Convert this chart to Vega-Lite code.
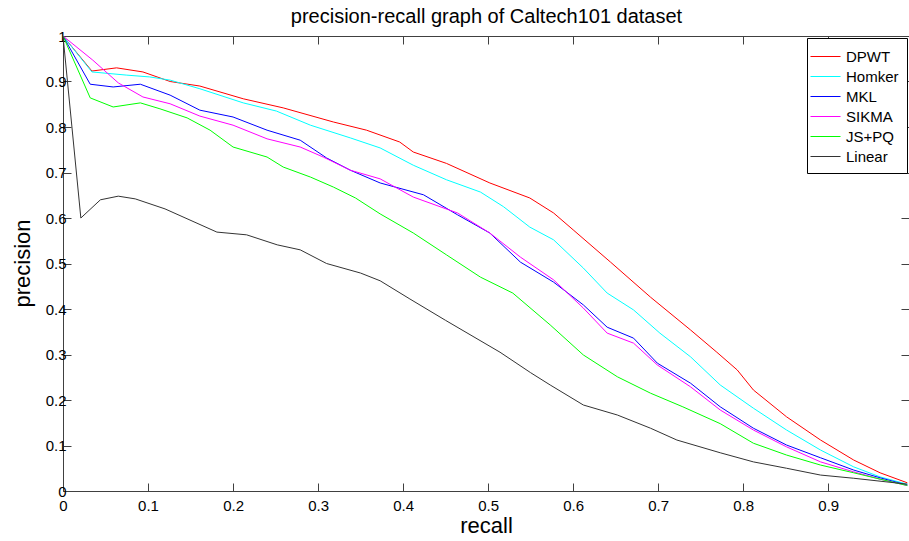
{
  "$schema": "https://vega.github.io/schema/vega-lite/v6.json",
  "autosize": {"type": "none"},
  "padding": {"left": 63, "top": 36, "right": 0, "bottom": 50},
  "width": 846,
  "height": 455,
  "background": "white",
  "config": {
    "font": "Liberation Sans",
    "view": {"stroke": "#404040", "strokeWidth": 1},
    "axis": {"grid": false, "domain": false, "tickColor": "#404040", "tickSize": -8, "labelColor": "#000", "labelFontSize": 15, "labelFont": "Liberation Sans", "titleFont": "Liberation Sans", "titleFontWeight": "normal", "titleColor": "#000", "format": ".1~f"}
  },
  "data": {"values": [
    {"method":"DPWT","recall":0,"precision":1},{"method":"DPWT","recall":0.034,"precision":0.923},{"method":"DPWT","recall":0.063,"precision":0.93},{"method":"DPWT","recall":0.094,"precision":0.921},{"method":"DPWT","recall":0.126,"precision":0.9},{"method":"DPWT","recall":0.161,"precision":0.89},{"method":"DPWT","recall":0.212,"precision":0.862},{"method":"DPWT","recall":0.259,"precision":0.842},{"method":"DPWT","recall":0.318,"precision":0.811},{"method":"DPWT","recall":0.357,"precision":0.793},{"method":"DPWT","recall":0.396,"precision":0.767},{"method":"DPWT","recall":0.412,"precision":0.745},{"method":"DPWT","recall":0.451,"precision":0.72},{"method":"DPWT","recall":0.502,"precision":0.677},{"method":"DPWT","recall":0.549,"precision":0.644},{"method":"DPWT","recall":0.577,"precision":0.611},{"method":"DPWT","recall":0.6,"precision":0.574},{"method":"DPWT","recall":0.644,"precision":0.503},{"method":"DPWT","recall":0.691,"precision":0.426},{"method":"DPWT","recall":0.738,"precision":0.354},{"method":"DPWT","recall":0.769,"precision":0.305},{"method":"DPWT","recall":0.793,"precision":0.266},{"method":"DPWT","recall":0.812,"precision":0.222},{"method":"DPWT","recall":0.851,"precision":0.163},{"method":"DPWT","recall":0.891,"precision":0.112},{"method":"DPWT","recall":0.93,"precision":0.068},{"method":"DPWT","recall":0.961,"precision":0.04},{"method":"DPWT","recall":0.993,"precision":0.018},
    {"method":"Homker","recall":0,"precision":1},{"method":"Homker","recall":0.034,"precision":0.921},{"method":"Homker","recall":0.075,"precision":0.914},{"method":"Homker","recall":0.102,"precision":0.91},{"method":"Homker","recall":0.126,"precision":0.903},{"method":"Homker","recall":0.161,"precision":0.884},{"method":"Homker","recall":0.212,"precision":0.853},{"method":"Homker","recall":0.251,"precision":0.835},{"method":"Homker","recall":0.291,"precision":0.804},{"method":"Homker","recall":0.338,"precision":0.776},{"method":"Homker","recall":0.373,"precision":0.754},{"method":"Homker","recall":0.412,"precision":0.716},{"method":"Homker","recall":0.451,"precision":0.684},{"method":"Homker","recall":0.491,"precision":0.657},{"method":"Homker","recall":0.518,"precision":0.625},{"method":"Homker","recall":0.549,"precision":0.58},{"method":"Homker","recall":0.577,"precision":0.552},{"method":"Homker","recall":0.612,"precision":0.49},{"method":"Homker","recall":0.64,"precision":0.435},{"method":"Homker","recall":0.671,"precision":0.398},{"method":"Homker","recall":0.702,"precision":0.347},{"method":"Homker","recall":0.738,"precision":0.295},{"method":"Homker","recall":0.773,"precision":0.233},{"method":"Homker","recall":0.812,"precision":0.182},{"method":"Homker","recall":0.851,"precision":0.134},{"method":"Homker","recall":0.891,"precision":0.09},{"method":"Homker","recall":0.93,"precision":0.053},{"method":"Homker","recall":0.961,"precision":0.031},{"method":"Homker","recall":0.993,"precision":0.015},
    {"method":"MKL","recall":0,"precision":1},{"method":"MKL","recall":0.032,"precision":0.894},{"method":"MKL","recall":0.059,"precision":0.888},{"method":"MKL","recall":0.091,"precision":0.894},{"method":"MKL","recall":0.126,"precision":0.87},{"method":"MKL","recall":0.161,"precision":0.837},{"method":"MKL","recall":0.2,"precision":0.822},{"method":"MKL","recall":0.24,"precision":0.793},{"method":"MKL","recall":0.279,"precision":0.771},{"method":"MKL","recall":0.31,"precision":0.732},{"method":"MKL","recall":0.338,"precision":0.705},{"method":"MKL","recall":0.373,"precision":0.677},{"method":"MKL","recall":0.424,"precision":0.651},{"method":"MKL","recall":0.464,"precision":0.607},{"method":"MKL","recall":0.502,"precision":0.567},{"method":"MKL","recall":0.538,"precision":0.503},{"method":"MKL","recall":0.577,"precision":0.459},{"method":"MKL","recall":0.612,"precision":0.409},{"method":"MKL","recall":0.64,"precision":0.36},{"method":"MKL","recall":0.671,"precision":0.336},{"method":"MKL","recall":0.699,"precision":0.281},{"method":"MKL","recall":0.738,"precision":0.237},{"method":"MKL","recall":0.773,"precision":0.185},{"method":"MKL","recall":0.812,"precision":0.138},{"method":"MKL","recall":0.851,"precision":0.101},{"method":"MKL","recall":0.891,"precision":0.073},{"method":"MKL","recall":0.93,"precision":0.046},{"method":"MKL","recall":0.961,"precision":0.029},{"method":"MKL","recall":0.993,"precision":0.013},
    {"method":"SIKMA","recall":0,"precision":1},{"method":"SIKMA","recall":0.035,"precision":0.947},{"method":"SIKMA","recall":0.065,"precision":0.897},{"method":"SIKMA","recall":0.094,"precision":0.866},{"method":"SIKMA","recall":0.126,"precision":0.851},{"method":"SIKMA","recall":0.161,"precision":0.824},{"method":"SIKMA","recall":0.2,"precision":0.804},{"method":"SIKMA","recall":0.24,"precision":0.774},{"method":"SIKMA","recall":0.279,"precision":0.756},{"method":"SIKMA","recall":0.306,"precision":0.734},{"method":"SIKMA","recall":0.338,"precision":0.705},{"method":"SIKMA","recall":0.373,"precision":0.686},{"method":"SIKMA","recall":0.412,"precision":0.646},{"method":"SIKMA","recall":0.464,"precision":0.611},{"method":"SIKMA","recall":0.502,"precision":0.567},{"method":"SIKMA","recall":0.538,"precision":0.514},{"method":"SIKMA","recall":0.577,"precision":0.464},{"method":"SIKMA","recall":0.612,"precision":0.402},{"method":"SIKMA","recall":0.64,"precision":0.347},{"method":"SIKMA","recall":0.671,"precision":0.325},{"method":"SIKMA","recall":0.699,"precision":0.277},{"method":"SIKMA","recall":0.738,"precision":0.229},{"method":"SIKMA","recall":0.773,"precision":0.178},{"method":"SIKMA","recall":0.812,"precision":0.134},{"method":"SIKMA","recall":0.851,"precision":0.097},{"method":"SIKMA","recall":0.891,"precision":0.064},{"method":"SIKMA","recall":0.93,"precision":0.042},{"method":"SIKMA","recall":0.961,"precision":0.026},{"method":"SIKMA","recall":0.993,"precision":0.012},
    {"method":"JS+PQ","recall":0,"precision":1},{"method":"JS+PQ","recall":0.032,"precision":0.864},{"method":"JS+PQ","recall":0.059,"precision":0.844},{"method":"JS+PQ","recall":0.091,"precision":0.853},{"method":"JS+PQ","recall":0.114,"precision":0.84},{"method":"JS+PQ","recall":0.146,"precision":0.82},{"method":"JS+PQ","recall":0.173,"precision":0.793},{"method":"JS+PQ","recall":0.2,"precision":0.756},{"method":"JS+PQ","recall":0.24,"precision":0.734},{"method":"JS+PQ","recall":0.259,"precision":0.712},{"method":"JS+PQ","recall":0.291,"precision":0.69},{"method":"JS+PQ","recall":0.318,"precision":0.668},{"method":"JS+PQ","recall":0.344,"precision":0.644},{"method":"JS+PQ","recall":0.373,"precision":0.609},{"method":"JS+PQ","recall":0.412,"precision":0.567},{"method":"JS+PQ","recall":0.451,"precision":0.519},{"method":"JS+PQ","recall":0.491,"precision":0.47},{"method":"JS+PQ","recall":0.529,"precision":0.435},{"method":"JS+PQ","recall":0.573,"precision":0.365},{"method":"JS+PQ","recall":0.612,"precision":0.299},{"method":"JS+PQ","recall":0.652,"precision":0.251},{"method":"JS+PQ","recall":0.691,"precision":0.215},{"method":"JS+PQ","recall":0.729,"precision":0.185},{"method":"JS+PQ","recall":0.773,"precision":0.148},{"method":"JS+PQ","recall":0.812,"precision":0.105},{"method":"JS+PQ","recall":0.851,"precision":0.079},{"method":"JS+PQ","recall":0.891,"precision":0.057},{"method":"JS+PQ","recall":0.93,"precision":0.04},{"method":"JS+PQ","recall":0.961,"precision":0.026},{"method":"JS+PQ","recall":0.993,"precision":0.012},
    {"method":"Linear","recall":0,"precision":1},{"method":"Linear","recall":0.021,"precision":0.6},{"method":"Linear","recall":0.044,"precision":0.64},{"method":"Linear","recall":0.065,"precision":0.648},{"method":"Linear","recall":0.085,"precision":0.642},{"method":"Linear","recall":0.12,"precision":0.62},{"method":"Linear","recall":0.181,"precision":0.569},{"method":"Linear","recall":0.216,"precision":0.563},{"method":"Linear","recall":0.252,"precision":0.541},{"method":"Linear","recall":0.279,"precision":0.53},{"method":"Linear","recall":0.31,"precision":0.5},{"method":"Linear","recall":0.35,"precision":0.479},{"method":"Linear","recall":0.373,"precision":0.462},{"method":"Linear","recall":0.408,"precision":0.422},{"method":"Linear","recall":0.45,"precision":0.375},{"method":"Linear","recall":0.514,"precision":0.305},{"method":"Linear","recall":0.55,"precision":0.26},{"method":"Linear","recall":0.573,"precision":0.233},{"method":"Linear","recall":0.612,"precision":0.189},{"method":"Linear","recall":0.652,"precision":0.167},{"method":"Linear","recall":0.691,"precision":0.138},{"method":"Linear","recall":0.722,"precision":0.112},{"method":"Linear","recall":0.773,"precision":0.084},{"method":"Linear","recall":0.812,"precision":0.064},{"method":"Linear","recall":0.851,"precision":0.05},{"method":"Linear","recall":0.891,"precision":0.035},{"method":"Linear","recall":0.93,"precision":0.028},{"method":"Linear","recall":0.993,"precision":0.015}
  ]},
  "layer": [
    {
      "mark": {"type": "line", "strokeWidth": 1, "clip": true},
      "encoding": {
        "x": {"field": "recall", "type": "quantitative", "scale": {"domain": [0, 0.995], "nice": false, "zero": false},
              "axis": {"orient": "bottom", "values": [0,0.1,0.2,0.3,0.4,0.5,0.6,0.7,0.8,0.9], "title": "recall", "titleFontSize": 22, "labelPadding": 15, "titleBaseline": "alphabetic", "titleX": 423, "titleY": 41, "labelFlush": false}},
        "y": {"field": "precision", "type": "quantitative", "scale": {"domain": [0, 1], "nice": false},
              "axis": {"orient": "left", "values": [0,0.1,0.2,0.3,0.4,0.5,0.6,0.7,0.8,0.9,1], "title": "precision", "titleFontSize": 22, "labelPadding": 5, "titleBaseline": "middle", "titleX": -41, "titleY": 227, "labelFlush": false}},
        "color": {"field": "method", "type": "nominal",
                  "scale": {"domain": ["DPWT","Homker","MKL","SIKMA","JS+PQ","Linear"], "range": ["#ff0000","#00ffff","#0000ff","#ff00ff","#00ff00","#333333"]},
                  "legend": {"title": null, "orient": "top-right", "offset": 2, "padding": 8, "strokeColor": "#000", "fillColor": "#fff", "symbolType": "M-1.5,0H1.5", "symbolSize": 400, "symbolStrokeWidth": 1, "labelFontSize": 15, "labelFont": "Liberation Sans", "labelColor": "#000", "rowPadding": 1, "labelOffset": 10}},
        "order": {"field": "recall", "type": "quantitative"}
      }
    },
    {
      "mark": {"type": "line", "strokeOpacity": 0},
      "encoding": {
        "x": {"field": "recall", "type": "quantitative", "axis": {"orient": "top", "values": [0,0.1,0.2,0.3,0.4,0.5,0.6,0.7,0.8,0.9], "labels": false, "title": "precision-recall graph of Caltech101 dataset", "titleFontSize": 20, "titleBaseline": "alphabetic", "titleX": 423, "titleY": -14, "titleAlign": "center"}},
        "y": {"field": "precision", "type": "quantitative", "axis": {"orient": "right", "values": [0,0.1,0.2,0.3,0.4,0.5,0.6,0.7,0.8,0.9,1], "labels": false, "title": null}},
        "detail": {"field": "method"}
      }
    }
  ],
  "resolve": {"axis": {"x": "independent", "y": "independent"}}
}
